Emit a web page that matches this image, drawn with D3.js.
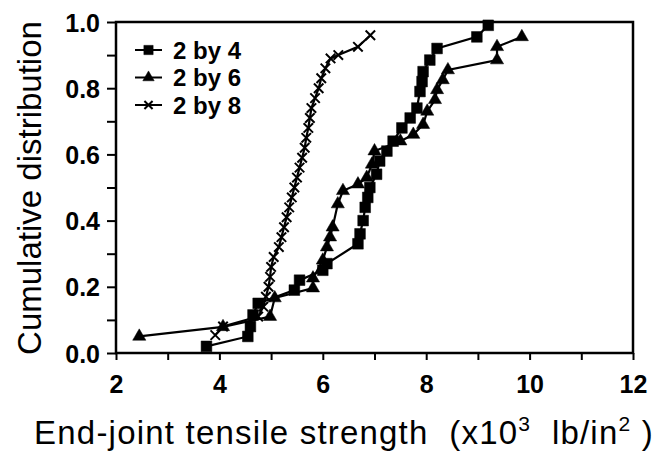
<!DOCTYPE html>
<html><head><meta charset="utf-8">
<script src="https://cdn.jsdelivr.net/npm/d3@7/dist/d3.min.js"></script>
<style>
body{margin:0;background:#fff;}
svg{display:block;}
text{font-family:"Liberation Sans",Arial,sans-serif;fill:#000;white-space:pre;}
</style></head>
<body><svg id="c" width="659" height="454"></svg>
<script>
// Data (x in 10^3 lb/in^2, y cumulative fraction)
const seriesNames = ["2 by 4", "2 by 6", "2 by 8"];
const s24x = [3.75,4.55,4.6,4.65,4.75,5.45,5.55,6.0,6.08,6.68,6.72,6.78,6.82,6.87,6.91,7.04,7.1,7.24,7.36,7.53,7.69,7.82,7.88,7.92,7.94,8.07,8.21,8.98,9.2];
const s24y = [0.02,0.05,0.08,0.115,0.15,0.19,0.22,0.25,0.27,0.33,0.36,0.40,0.44,0.47,0.50,0.54,0.58,0.61,0.64,0.68,0.71,0.74,0.79,0.82,0.85,0.885,0.92,0.955,0.99];
const s26x = [2.45,4.07,4.98,5.07,5.81,5.81,6.0,6.08,6.14,6.19,6.29,6.39,6.68,6.85,6.95,7.0,7.5,7.75,7.94,8.02,8.17,8.21,8.32,8.42,9.37,9.37,9.85];
const s26y = [0.05,0.079,0.11,0.166,0.196,0.226,0.28,0.32,0.35,0.38,0.45,0.49,0.51,0.53,0.57,0.61,0.64,0.66,0.69,0.73,0.765,0.795,0.825,0.855,0.885,0.925,0.955];
const s28x = [3.92,4.07,4.75,4.85,4.9,4.95,4.98,5.0,5.05,5.15,5.2,5.25,5.3,5.35,5.4,5.45,5.5,5.55,5.6,5.65,5.68,5.72,5.75,5.78,5.85,5.92,5.97,6.05,6.15,6.3,6.68,6.92];
const s28y = [0.054,0.08,0.11,0.14,0.17,0.2,0.23,0.26,0.29,0.32,0.35,0.38,0.41,0.44,0.47,0.5,0.53,0.56,0.59,0.62,0.65,0.68,0.71,0.74,0.77,0.8,0.83,0.86,0.89,0.9,0.925,0.96];
const xTicks = [2,4,6,8,10,12];
const yTicks = [0.0,0.2,0.4,0.6,0.8,1.0];
const xMinor = [3,5,7,9,11];
const yMinor = [0.1,0.3,0.5,0.7,0.9];
const xTitle = "End-joint tensile strength";
const yTitle = "Cumulative distribution";

const svg = d3.select("#c");
const x = d3.scaleLinear().domain([2,12]).range([116,633]);
const y = d3.scaleLinear().domain([0,1]).range([353,22]);

// frame
svg.append("rect").attr("x",116).attr("y",22).attr("width",633-116).attr("height",353-22)
  .attr("fill","none").attr("stroke","#000").attr("stroke-width",2.5);

const xAxis = svg.append("g").attr("transform","translate(0,353)")
  .call(d3.axisBottom(x).tickValues(xTicks).tickSize(7).tickFormat(d=>d));
xAxis.append("g").call(d3.axisBottom(x).tickValues(xMinor).tickSize(7).tickFormat(""));
const yAxis = svg.append("g").attr("transform","translate(116,0)")
  .call(d3.axisLeft(y).tickValues(yTicks).tickSize(9).tickFormat(d3.format(".1f")));
yAxis.append("g").call(d3.axisLeft(y).tickValues(yMinor).tickSize(9).tickFormat(""));
svg.selectAll(".domain").remove();
svg.selectAll(".tick line").attr("stroke","#000").attr("stroke-width",2);
xAxis.selectAll("text").attr("font-size",25).attr("font-weight","bold").attr("dy",null).attr("y",40);
yAxis.selectAll("text").attr("font-size",25).attr("font-weight","bold").attr("x",-16).attr("dy","0.36em");

// titles
svg.append("text").attr("transform","translate(41,188) rotate(-90)").attr("text-anchor","middle")
  .attr("font-size",33).text(yTitle);
const xt = svg.append("text").attr("x",344).attr("y",444).attr("text-anchor","middle")
  .attr("font-size",33).attr("letter-spacing",1.2);
xt.append("tspan").text(xTitle + "  (x10");
xt.append("tspan").attr("font-size",21).attr("dy",-13).text("3");
xt.append("tspan").attr("dy",13).text("  lb/in");
xt.append("tspan").attr("font-size",21).attr("dy",-13).text("2");
xt.append("tspan").attr("dy",13).text(" )");

const line = d3.line().x(d=>x(d[0])).y(d=>y(d[1]));
const sets = [
  {name:seriesNames[0], pts:d3.zip(s24x,s24y), sym:d3.symbolSquare, size:115},
  {name:seriesNames[1], pts:d3.zip(s26x,s26y), sym:d3.symbolTriangle, size:75},
  {name:seriesNames[2], pts:d3.zip(s28x,s28y), sym:d3.symbolX, size:60}
];
sets.forEach(s=>{
  svg.append("path").attr("d",line(s.pts)).attr("fill","none").attr("stroke","#000").attr("stroke-width",2.2);
  svg.append("g").selectAll("path").data(s.pts).join("path")
    .attr("transform",d=>`translate(${x(d[0])},${y(d[1])})`)
    .attr("d",d3.symbol(s.sym,s.size))
    .attr("fill","#000").attr("stroke","#000").attr("stroke-width", s.sym===d3.symbolX?2:0.5);
});

// legend
const lg = svg.append("g");
sets.forEach((s,i)=>{
  const yy = 50 + i*27.5;
  lg.append("line").attr("x1",135).attr("x2",162).attr("y1",yy).attr("y2",yy).attr("stroke","#000").attr("stroke-width",2);
  lg.append("path").attr("transform",`translate(148.5,${yy})`).attr("d",d3.symbol(s.sym,s.size*0.75))
    .attr("fill","#000").attr("stroke","#000").attr("stroke-width", s.sym===d3.symbolX?2:0.5);
  lg.append("text").attr("x",173).attr("y",yy).attr("dy","0.36em").attr("font-size",24).attr("font-weight","bold").text(s.name);
});
</script></body></html>
